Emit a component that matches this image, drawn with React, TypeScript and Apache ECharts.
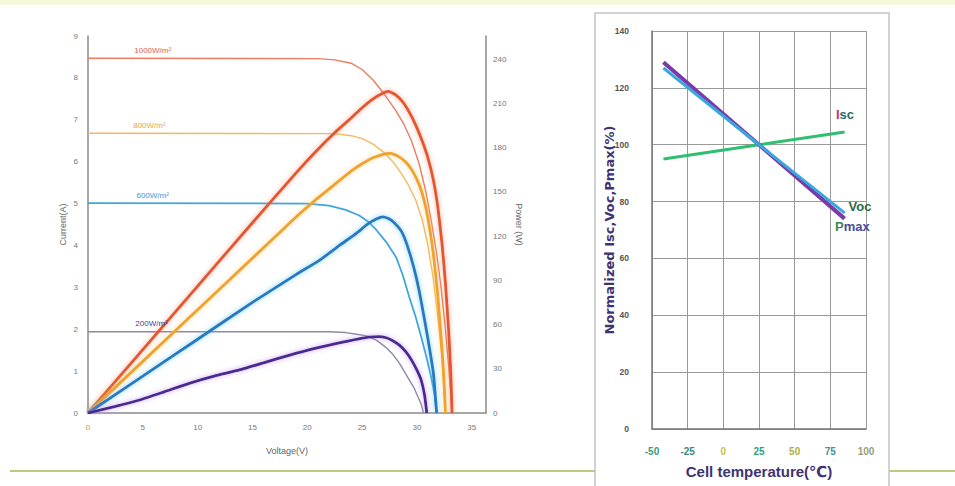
import React, { useEffect, useRef } from "react";
import * as echarts from "echarts";

// ---- Left chart: I-V and P-V curves at different irradiance ----
const irradianceLabels = ["1000W/m²", "800W/m²", "600W/m²", "200W/m²"];
const labelAnchors: [number, number][] = [
  [5.9, 8.47],
  [5.6, 6.68],
  [5.9, 5.01],
  [5.8, 1.94],
];

const iv1000: [number, number][] = [
  [0, 8.47], [21, 8.46], [22.5, 8.43], [24, 8.35], [25, 8.2], [26, 7.95],
  [27, 7.62], [28, 7.25], [28.8, 6.9], [29.5, 6.5], [30.2, 5.95], [30.8, 5.3],
  [31.3, 4.6], [31.8, 3.8], [32.2, 3.0], [32.6, 2.0], [32.9, 1.1], [33.2, 0],
];
const iv800: [number, number][] = [
  [0, 6.68], [22.5, 6.67], [24, 6.62], [25, 6.55], [26, 6.42], [27, 6.22],
  [27.8, 6.0], [28.5, 5.75], [29.2, 5.45], [29.9, 5.08], [30.5, 4.6],
  [31, 4.0], [31.5, 3.2], [31.9, 2.3], [32.3, 1.3], [32.6, 0],
];
const iv600: [number, number][] = [
  [0, 5.01], [20, 5.0], [22, 4.95], [23.5, 4.85], [24.7, 4.72], [25.6, 4.56],
  [26.3, 4.37], [27.2, 4.08], [28.1, 3.72], [28.7, 3.3], [29.3, 2.77],
  [29.9, 2.28], [30.4, 1.81], [30.9, 1.3], [31.3, 0.86], [31.6, 0.45], [31.8, 0],
];
const iv200: [number, number][] = [
  [0, 1.94], [22, 1.94], [23.5, 1.92], [24.5, 1.88], [25.4, 1.84], [26.3, 1.74],
  [27.2, 1.56], [27.8, 1.4], [28.4, 1.19], [29, 0.92], [29.7, 0.62],
  [30.1, 0.38], [30.4, 0.2], [30.6, 0],
];

const pv1000: [number, number][] = [
  [0, 0], [5, 43], [10, 86], [15, 129], [19, 163], [21, 179], [22.5, 190],
  [24, 200], [25, 207], [26, 213], [26.8, 216.5], [27.4, 218], [28, 216],
  [28.7, 211], [29.3, 204], [29.9, 195], [30.5, 184], [31, 173], [31.5, 158],
  [31.9, 140], [32.3, 114], [32.6, 88], [32.9, 55], [33.1, 25], [33.2, 0],
];
const pv800: [number, number][] = [
  [0, 0], [5, 35], [10, 70], [15, 105], [19, 133], [21, 146], [22.5, 155],
  [24, 164], [25, 169], [26, 173], [27, 175.5], [27.6, 176], [28.3, 174],
  [29, 170], [29.6, 164], [30.2, 155], [30.7, 143], [31.1, 128], [31.5, 108],
  [31.9, 80], [32.2, 52], [32.45, 25], [32.6, 0],
];
const pv600: [number, number][] = [
  [0, 0], [5, 25], [10, 50], [15, 75], [19, 94], [21, 103], [23, 114],
  [24.5, 122], [25.5, 128], [26.3, 131.5], [26.9, 133], [27.5, 131.5],
  [28, 128.5], [28.6, 123], [29.1, 114], [29.7, 99], [30.2, 83], [30.7, 63],
  [31.1, 46], [31.5, 27], [31.8, 0],
];
const pv200: [number, number][] = [
  [0, 0], [2.5, 4.5], [4.7, 8.8], [7, 14.5], [9.3, 20.3], [11.5, 25],
  [13.8, 29.2], [16, 34], [18.4, 39.3], [20.5, 43.5], [22.9, 47.5], [24.5, 50],
  [25.6, 51.5], [26.5, 51.8], [27.2, 51], [27.8, 49], [28.4, 46], [29, 41.5],
  [29.5, 36], [30, 29], [30.4, 22], [30.7, 12], [30.9, 0],
];

// ---- Right chart: normalized values vs cell temperature ----
const iscLine: [number, number][] = [[-42, 95], [25, 100], [85, 104.5]];
const vocLine: [number, number][] = [[-42, 127], [25, 100], [85, 76]];
const pmaxLine: [number, number][] = [[-42, 129], [25, 100], [85, 74]];
const tempLabelColors = ["#3a9a7a", "#3a8a7a", "#c8c040", "#30a080", "#b0b040", "#4090a0", "#90a080"];

const FONT = "'Liberation Sans', 'DejaVu Sans', sans-serif";
const WIDE = "'DejaVu Sans', sans-serif";

export default function App() {
  const ref = useRef<HTMLDivElement>(null);

  useEffect(() => {
    if (!ref.current) return;
    const chart = echarts.init(ref.current, undefined, { renderer: "svg" });

    const ivSeries = (data: [number, number][], color: string, width: number, idx: number, labelColor: string) => ({
      type: "line",
      xAxisIndex: 0,
      yAxisIndex: 0,
      data,
      showSymbol: false,
      symbol: "none",
      z: 3,
      lineStyle: { color, width },
      markPoint: {
        symbol: "circle",
        symbolSize: 0,
        silent: true,
        data: [{ name: irradianceLabels[idx], coord: labelAnchors[idx] }],
        label: {
          show: true,
          position: "top",
          distance: 4,
          formatter: "{b}",
          color: labelColor,
          fontSize: 8,
          fontFamily: FONT,
        },
      },
    });

    const pvSeries = (data: [number, number][], color: string, glow: string) => ({
      type: "line",
      xAxisIndex: 0,
      yAxisIndex: 1,
      data,
      showSymbol: false,
      symbol: "none",
      smooth: 0.15,
      z: 4,
      lineStyle: { color, width: 2.8, shadowColor: glow, shadowBlur: 5 },
    });

    const tempSeries = (data: [number, number][], color: string, width: number, z: number, label: any) => ({
      type: "line",
      xAxisIndex: 1,
      yAxisIndex: 2,
      data,
      showSymbol: false,
      symbol: "none",
      z,
      lineStyle: { color, width },
      markPoint: label,
    });

    const textMark = (coord: [number, number], formatter: string, rich: any) => ({
      symbol: "circle",
      symbolSize: 0,
      silent: true,
      data: [{ coord }],
      label: { show: true, position: "inside", formatter, rich },
    });

    const lblStyle = (color: string) => ({ color, fontSize: 13, fontWeight: "bold", fontFamily: FONT });

    chart.setOption({
      animation: false,
      backgroundColor: "#ffffff",
      textStyle: { fontFamily: FONT },
      graphic: [
        { type: "rect", z: -5, shape: { x: 0, y: 0, width: 955, height: 5 }, style: { fill: "#f6f8dc" } },
        { type: "line", z: -5, shape: { x1: 10, y1: 471, x2: 955, y2: 471 }, style: { stroke: "#b9cc7e", lineWidth: 2 } },
        { type: "rect", z: -4, shape: { x: 595, y: 13, width: 294, height: 480 }, style: { fill: "#ffffff", stroke: "#c4c4c4", lineWidth: 1.5 } },
      ],
      grid: [
        { left: 88, top: 36, width: 398, height: 377 },
        { left: 652, top: 31, width: 214, height: 398 },
      ],
      xAxis: [
        {
          gridIndex: 0,
          type: "value",
          min: 0,
          max: 36.3,
          interval: 5,
          axisLine: { onZero: false, lineStyle: { color: "#8a8a8a", width: 1.5 } },
          axisTick: { show: false },
          splitLine: { show: false },
          axisLabel: {
            fontSize: 8,
            margin: 10,
            color: (v: any, i: number) => (i === 0 ? "#d09040" : "#777"),
            formatter: (v: number) => (v % 5 === 0 ? String(v) : ""),
          },
          name: "Voltage(V)",
          nameLocation: "middle",
          nameGap: 33,
          nameMoveOverlap: false,
          nameTextStyle: { fontSize: 9, color: "#666" },
        },
        {
          gridIndex: 1,
          type: "value",
          min: -50,
          max: 100,
          interval: 25,
          axisLine: { onZero: false, lineStyle: { color: "#777", width: 1.5 } },
          axisTick: { show: false },
          splitLine: { show: true, lineStyle: { color: "#9a9a9a", width: 1 } },
          axisLabel: {
            fontSize: 10,
            fontWeight: "bold",
            margin: 17,
            color: (v: any, i: number) => tempLabelColors[i] || "#666",
          },
          name: "Cell temperature(℃)",
          nameLocation: "middle",
          nameGap: 35,
          nameMoveOverlap: false,
          nameTextStyle: { fontSize: 15, fontWeight: "bold", color: "#3d3470", fontFamily: FONT },
        },
      ],
      yAxis: [
        {
          gridIndex: 0,
          type: "value",
          position: "left",
          min: 0,
          max: 9,
          interval: 1,
          axisLine: { show: true, onZero: false, lineStyle: { color: "#8a8a8a", width: 1.5 } },
          axisTick: { show: false },
          splitLine: { show: false },
          axisLabel: { fontSize: 8, color: "#777", margin: 10 },
          name: "Current(A)",
          nameLocation: "middle",
          nameGap: 21,
          nameMoveOverlap: false,
          nameTextStyle: { fontSize: 9, color: "#666" },
        },
        {
          gridIndex: 0,
          type: "value",
          position: "right",
          min: 0,
          max: 255.6,
          interval: 30,
          axisLine: { show: true, onZero: false, lineStyle: { color: "#8a8a8a", width: 1.5 } },
          axisTick: { show: false },
          splitLine: { show: false },
          axisLabel: {
            fontSize: 8,
            color: "#777",
            margin: 7,
            formatter: (v: number) => (v % 30 === 0 ? String(v) : ""),
          },
          name: "Power (W)",
          nameLocation: "middle",
          nameRotate: -90,
          nameGap: 28,
          nameMoveOverlap: false,
          nameTextStyle: { fontSize: 9, color: "#666" },
        },
        {
          gridIndex: 1,
          type: "value",
          min: 0,
          max: 140,
          interval: 20,
          axisLine: { show: true, onZero: false, lineStyle: { color: "#777", width: 1.5 } },
          axisTick: { show: false },
          splitLine: { show: true, lineStyle: { color: "#9a9a9a", width: 1 } },
          axisLabel: { fontSize: 8.5, fontWeight: "bold", color: "#555", margin: 23 },
          name: "Normalized Isc,Voc,Pmax(%)",
          nameLocation: "middle",
          nameGap: 36,
          nameMoveOverlap: false,
          nameTextStyle: { fontSize: 13, fontWeight: "bold", color: "#3d3470", fontFamily: WIDE },
        },
      ],
      series: [
        ivSeries(iv1000, "#ee7a60", 1.4, 0, "#e0604a"),
        ivSeries(iv800, "#f4b860", 1.4, 1, "#f0a040"),
        ivSeries(iv600, "#3fa6dc", 1.8, 2, "#3a9ad8"),
        ivSeries(iv200, "#8f88a8", 1.4, 3, "#4a3aa0"),
        pvSeries(pv1000, "#e4572e", "rgba(240,120,90,0.6)"),
        pvSeries(pv800, "#f0a22e", "rgba(245,190,90,0.6)"),
        pvSeries(pv600, "#2c78c0", "rgba(90,200,235,0.8)"),
        pvSeries(pv200, "#4a2a90", "rgba(190,140,230,0.8)"),
        tempSeries(iscLine, "#2ec070", 3, 5, textMark([85.3, 110.5], "{a|I}{b|sc}", { a: lblStyle("#d0306a"), b: lblStyle("#2a6a6a") })),
        tempSeries(pmaxLine, "#7a3aa8", 4, 5, textMark([90.5, 71.2], "{a|P}{b|max}", { a: lblStyle("#3a8a5a"), b: lblStyle("#4a4a9a") })),
        tempSeries(vocLine, "#3aa8e0", 3, 6, textMark([95.8, 78.2], "{a|Voc}", { a: lblStyle("#2a6a40") })),
      ],
    });

    return () => chart.dispose();
  }, []);

  return <div ref={ref} style={{ position: "fixed", left: 0, top: 0, width: 955, height: 486 }} />;
}
